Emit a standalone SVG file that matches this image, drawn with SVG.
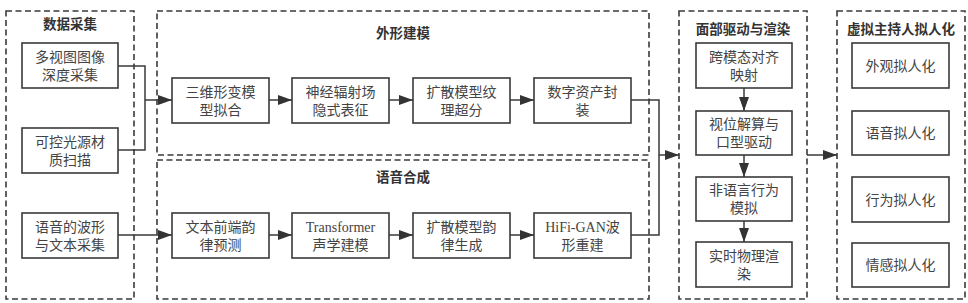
<svg xmlns="http://www.w3.org/2000/svg" width="968" height="303" viewBox="0 0 968 303">
<style>
.cont{fill:none;stroke:#3a3a3a;stroke-width:1.6;stroke-dasharray:6 3.5}
.box{fill:#fff;stroke:#3a3a3a;stroke-width:1.6}
.t{font-family:"Noto Sans CJK SC","Liberation Sans",sans-serif;font-size:14px;fill:#444;text-anchor:middle}
.ti{font-family:"Noto Sans CJK SC","Liberation Sans",sans-serif;font-size:13.5px;font-weight:bold;fill:#333;text-anchor:middle}
.s{font-family:"Liberation Serif",serif}
.c{fill:none;stroke:#3a3a3a;stroke-width:1.5}
</style>
<defs>
<marker id="ah" viewBox="0 0 14 10" refX="14" refY="5" markerWidth="14" markerHeight="10" markerUnits="userSpaceOnUse" orient="auto">
<path d="M0,0 L14,5 L0,10 z" fill="#333"/>
</marker>
</defs>
<rect width="968" height="303" fill="#fff"/>

<g id="data-collection">
<rect class="cont" x="6" y="11" width="128" height="288"/>
<text class="ti" x="70" y="29">数据采集</text>
</g>
<g id="appearance">
<rect class="cont" x="157" y="11" width="492" height="144"/>
<text class="ti" x="403" y="38">外形建模</text>
</g>
<g id="speech">
<rect class="cont" x="157" y="160" width="492" height="139"/>
<text class="ti" x="403" y="182">语音合成</text>
</g>
<g id="face">
<rect class="cont" x="679" y="11" width="128" height="288"/>
<text class="ti" x="743" y="34">面部驱动与渲染</text>
</g>
<g id="persona">
<rect class="cont" x="837" y="11" width="128" height="288"/>
<text class="ti" x="901" y="34">虚拟主持人拟人化</text>
</g>

<g id="n-multiview"><rect class="box" x="22" y="43" width="96" height="45"/><text class="t" y="71"><tspan x="70" dy="-9">多视图图像</tspan><tspan x="70" dy="18">深度采集</tspan></text></g>
<g id="n-light"><rect class="box" x="22" y="128" width="96" height="45"/><text class="t" y="156"><tspan x="70" dy="-9">可控光源材</tspan><tspan x="70" dy="18">质扫描</tspan></text></g>
<g id="n-voice"><rect class="box" x="22" y="213" width="96" height="45"/><text class="t" y="241"><tspan x="70" dy="-9">语音的波形</tspan><tspan x="70" dy="18">与文本采集</tspan></text></g>

<g id="n-3dmm"><rect class="box" x="172" y="78" width="97" height="45"/><text class="t" y="106"><tspan x="220.5" dy="-9">三维形变模</tspan><tspan x="220.5" dy="18">型拟合</tspan></text></g>
<g id="n-nerf"><rect class="box" x="292" y="78" width="97" height="45"/><text class="t" y="106"><tspan x="340.5" dy="-9">神经辐射场</tspan><tspan x="340.5" dy="18">隐式表征</tspan></text></g>
<g id="n-texture"><rect class="box" x="413" y="78" width="97" height="45"/><text class="t" y="106"><tspan x="461.5" dy="-9">扩散模型纹</tspan><tspan x="461.5" dy="18">理超分</tspan></text></g>
<g id="n-asset"><rect class="box" x="534" y="78" width="97" height="45"/><text class="t" y="106"><tspan x="582.5" dy="-9">数字资产封</tspan><tspan x="582.5" dy="18">装</tspan></text></g>

<g id="n-frontend"><rect class="box" x="172" y="213" width="97" height="45"/><text class="t" y="241"><tspan x="220.5" dy="-9">文本前端韵</tspan><tspan x="220.5" dy="18">律预测</tspan></text></g>
<g id="n-transformer"><rect class="box" x="292" y="213" width="97" height="45"/><text class="t" y="241"><tspan x="340.5" dy="-9" class="s">Transformer</tspan><tspan x="340.5" dy="18">声学建模</tspan></text></g>
<g id="n-prosody"><rect class="box" x="413" y="213" width="97" height="45"/><text class="t" y="241"><tspan x="461.5" dy="-9">扩散模型韵</tspan><tspan x="461.5" dy="18">律生成</tspan></text></g>
<g id="n-hifigan"><rect class="box" x="534" y="213" width="97" height="45"/><text class="t" y="241"><tspan x="582.5" dy="-9"><tspan class="s">HiFi-GAN</tspan>波</tspan><tspan x="582.5" dy="18">形重建</tspan></text></g>

<g id="n-align"><rect class="box" x="696" y="43" width="96" height="45"/><text class="t" y="71"><tspan x="744" dy="-9">跨模态对齐</tspan><tspan x="744" dy="18">映射</tspan></text></g>
<g id="n-viseme"><rect class="box" x="696" y="111" width="96" height="44"/><text class="t" y="138"><tspan x="744" dy="-9">视位解算与</tspan><tspan x="744" dy="18">口型驱动</tspan></text></g>
<g id="n-nonverbal"><rect class="box" x="696" y="177" width="96" height="44"/><text class="t" y="204"><tspan x="744" dy="-9">非语言行为</tspan><tspan x="744" dy="18">模拟</tspan></text></g>
<g id="n-render"><rect class="box" x="696" y="242" width="96" height="45"/><text class="t" y="270"><tspan x="744" dy="-9">实时物理渲</tspan><tspan x="744" dy="18">染</tspan></text></g>

<g id="n-look"><rect class="box" x="852" y="43" width="97" height="45"/><text class="t" x="900.5" y="70.5">外观拟人化</text></g>
<g id="n-voicep"><rect class="box" x="852" y="111" width="97" height="44"/><text class="t" x="900.5" y="138">语音拟人化</text></g>
<g id="n-behavior"><rect class="box" x="852" y="177" width="97" height="45"/><text class="t" x="900.5" y="204.5">行为拟人化</text></g>
<g id="n-emotion"><rect class="box" x="852" y="243" width="97" height="44"/><text class="t" x="900.5" y="270">情感拟人化</text></g>

<g id="connectors">
<polyline class="c" points="118,66 145,66 145,150 118,150"/>
<line class="c" x1="145" y1="100" x2="172" y2="100" marker-end="url(#ah)"/>
<line class="c" x1="118" y1="235" x2="172" y2="235" marker-end="url(#ah)"/>
<line class="c" x1="269" y1="100" x2="292" y2="100" marker-end="url(#ah)"/>
<line class="c" x1="389" y1="100" x2="413" y2="100" marker-end="url(#ah)"/>
<line class="c" x1="510" y1="100" x2="534" y2="100" marker-end="url(#ah)"/>
<line class="c" x1="269" y1="235" x2="292" y2="235" marker-end="url(#ah)"/>
<line class="c" x1="389" y1="235" x2="413" y2="235" marker-end="url(#ah)"/>
<line class="c" x1="510" y1="235" x2="534" y2="235" marker-end="url(#ah)"/>
<polyline class="c" points="631,100 659,100 659,235 631,235"/>
<line class="c" x1="659" y1="155" x2="679" y2="155" marker-end="url(#ah)"/>
<line class="c" x1="744" y1="88" x2="744" y2="111" marker-end="url(#ah)"/>
<line class="c" x1="744" y1="155" x2="744" y2="177" marker-end="url(#ah)"/>
<line class="c" x1="744" y1="221" x2="744" y2="242" marker-end="url(#ah)"/>
<line class="c" x1="807" y1="155" x2="837" y2="155" marker-end="url(#ah)"/>
</g>
</svg>
